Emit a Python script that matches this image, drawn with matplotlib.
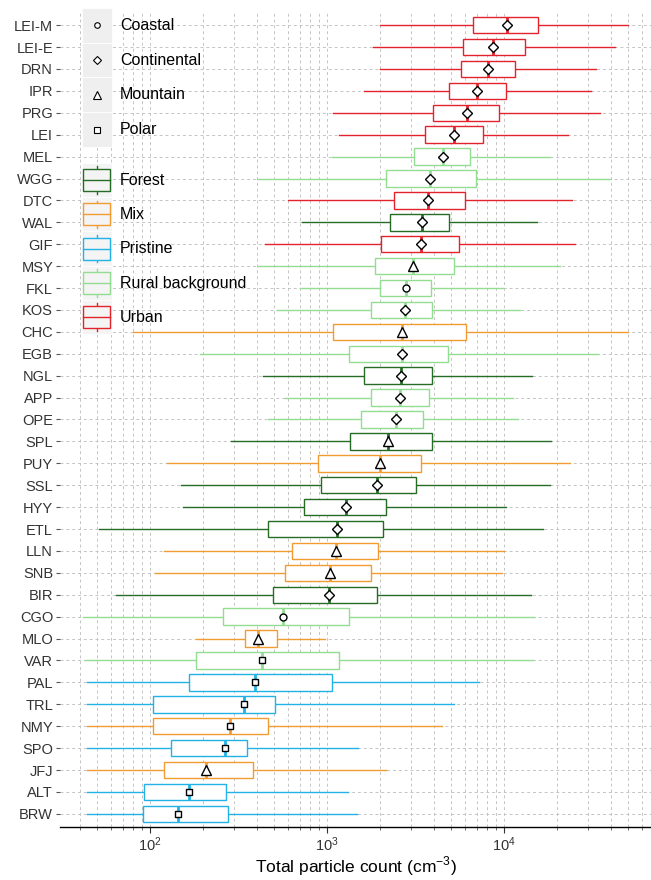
import matplotlib
matplotlib.use('Agg')
import matplotlib.pyplot as plt
from matplotlib.legend_handler import HandlerBase
from matplotlib.patches import Rectangle
from matplotlib.lines import Line2D
from matplotlib.ticker import LogLocator, NullFormatter

plt.rcParams['font.family'] = ['Liberation Sans', 'DejaVu Sans']
plt.rcParams['mathtext.fontset'] = 'custom'
plt.rcParams['mathtext.rm'] = 'Liberation Sans'

# Stations listed top to bottom, as in the figure
stations = ['LEI-M', 'LEI-E', 'DRN', 'IPR', 'PRG', 'LEI', 'MEL', 'WGG', 'DTC',
            'WAL', 'GIF', 'MSY', 'FKL', 'KOS', 'CHC', 'EGB', 'NGL', 'APP', 'OPE',
            'SPL', 'PUY', 'SSL', 'HYY', 'ETL', 'LLN', 'SNB', 'BIR', 'CGO', 'MLO',
            'VAR', 'PAL', 'TRL', 'NMY', 'SPO', 'JFJ', 'ALT', 'BRW']
env = ['Urban', 'Urban', 'Urban', 'Urban', 'Urban', 'Urban', 'Rural background',
       'Rural background', 'Urban', 'Forest', 'Urban', 'Rural background',
       'Rural background', 'Rural background', 'Mix', 'Rural background', 'Forest',
       'Rural background', 'Rural background', 'Forest', 'Mix', 'Forest', 'Forest',
       'Forest', 'Mix', 'Mix', 'Forest', 'Rural background', 'Mix',
       'Rural background', 'Pristine', 'Pristine', 'Mix', 'Pristine', 'Mix',
       'Pristine', 'Pristine']
geo = ['Continental'] * 11 + ['Mountain', 'Coastal', 'Continental', 'Mountain',
       'Continental', 'Continental', 'Continental', 'Continental', 'Mountain',
       'Mountain', 'Continental', 'Continental', 'Continental', 'Mountain',
       'Mountain', 'Continental', 'Coastal', 'Mountain', 'Polar', 'Polar', 'Polar',
       'Polar', 'Polar', 'Mountain', 'Polar', 'Polar']

whislo = [1990, 1820, 1990, 1620, 1080, 1170, 1070, 403, 603, 723, 447, 408, 703,
          522, 80, 191, 435, 579, 464, 287, 125, 150, 154, 51.5, 120, 107, 64,
          42, 182, 43, 44, 44, 44, 44, 44, 44, 44]
q1 = [6680, 5860, 5710, 4890, 3970, 3580, 3100, 2150, 2390, 2270, 2020, 1870, 1990,
      1770, 1080, 1330, 1620, 1770, 1560, 1350, 889, 925, 741, 464, 634, 579, 495,
      258, 344, 182, 166, 104, 104, 131, 120, 92.5, 91]
med = [10400, 8670, 8130, 7040, 6180, 5230, 4520, 3820, 3720, 3440, 3400, 3060,
       2790, 2760, 2660, 2660, 2620, 2580, 2450, 2210, 1990, 1920, 1280, 1140, 1120,
       1040, 1030, 564, 408, 430, 392, 340, 283, 266, 207, 166, 144]
q3 = [15600, 13200, 11500, 10300, 9370, 7610, 6420, 6950, 6020, 4890, 5570, 5230,
      3870, 3920, 6100, 4830, 3920, 3770, 3480, 3920, 3400, 3180, 2150, 2070, 1940,
      1770, 1920, 1330, 522, 1170, 1070, 508, 464, 353, 382, 268, 276]
whishi = [50200, 42400, 33100, 31000, 34800, 23000, 18200, 39700, 24200, 15400,
          25200, 20700, 9860, 12300, 50200, 34000, 14400, 11200, 12000, 18400,
          23600, 18200, 10300, 16600, 10000, 9750, 14200, 14800, 975, 14600, 7230,
          5230, 4470, 1500, 2150, 1310, 1480]
mean = list(med)

env_colors = {'Forest': '#266B26', 'Mix': '#F29B30', 'Pristine': '#22B2E6',
              'Rural background': '#93DD93', 'Urban': '#E2232B'}
geo_markers = {'Coastal': ('o', 5), 'Continental': ('D', 5.5),
               'Mountain': ('^', 6.5), 'Polar': ('s', 5)}

n = len(stations)
pos = [n - i for i in range(n)]

fig = plt.figure(figsize=(6.51, 8.8), dpi=100)
ax = fig.add_axes([60 / 651, 53 / 880, 591 / 651, 815 / 880])
ax.set_xscale('log')
ax.set_xlim(31, 67700)
ax.set_ylim(0.4, n + 0.6)

stats = []
for i in range(n):
    stats.append({'whislo': whislo[i], 'q1': q1[i], 'med': med[i],
                  'q3': q3[i], 'whishi': whishi[i], 'fliers': []})

bp = ax.bxp(stats, positions=pos, widths=0.75, orientation='horizontal',
            patch_artist=True, showcaps=False, showfliers=False,
            manage_ticks=False)
for i in range(n):
    c = env_colors[env[i]]
    bp['boxes'][i].set(facecolor='white', edgecolor=c, linewidth=1.0, zorder=3)
    bp['medians'][i].set(color=c, linewidth=2.0, zorder=3)
    for w in bp['whiskers'][2 * i:2 * i + 2]:
        w.set(color=c, linewidth=1.0, zorder=2)

for i in range(n):
    mk, ms = geo_markers[geo[i]]
    ax.plot(mean[i], pos[i], marker=mk, ms=ms, mfc='white', mec='black',
            mew=1.0, ls='none', zorder=5)

# axes styling
ax.set_yticks(pos)
ax.set_yticklabels(stations, fontsize=10.5, color='#333333')
ax.xaxis.set_major_locator(LogLocator(base=10))
ax.xaxis.set_minor_locator(LogLocator(base=10, subs=range(2, 10)))
ax.xaxis.set_minor_formatter(NullFormatter())
ax.tick_params(axis='x', which='major', labelsize=10.5, labelcolor='#333333',
               length=4, color='#333333', pad=2)
ax.tick_params(axis='x', which='minor', length=2, color='#555555')
ax.tick_params(axis='y', length=3, color='#555555', pad=2)
ax.set_axisbelow(True)
ax.grid(True, axis='x', which='both', linestyle=(0, (3, 3)), color='#C4C4C4',
        linewidth=0.7)
ax.grid(True, axis='y', which='major', linestyle=(0, (3, 3)), color='#C4C4C4',
        linewidth=0.7)
for s in ['top', 'right', 'left']:
    ax.spines[s].set_visible(False)
ax.spines['bottom'].set_linewidth(1.0)
ax.set_xlabel('Total particle count (cm$^{-3}$)', fontsize=12.5)
ax.xaxis.set_label_coords(0.5, -0.034)


class MarkerKey(HandlerBase):
    def __init__(self, marker, ms):
        super().__init__()
        self.marker = marker
        self.ms = ms

    def create_artists(self, legend, orig_handle, xdescent, ydescent, width,
                       height, fontsize, trans):
        bg = Rectangle((-xdescent, -ydescent), width, height, facecolor='#EFEFEF',
                       edgecolor='white', linewidth=0.6, transform=trans)
        m = Line2D([width / 2 - xdescent], [height / 2 - ydescent],
                   marker=self.marker, ms=self.ms * 0.8, mfc='white', mec='black',
                   mew=0.8, ls='none', transform=trans)
        return [bg, m]


class BoxKey(HandlerBase):
    def __init__(self, color):
        super().__init__()
        self.color = color

    def create_artists(self, legend, orig_handle, xdescent, ydescent, width,
                       height, fontsize, trans):
        x0, y0 = -xdescent, -ydescent
        bg = Rectangle((x0, y0), width, height, facecolor='#F4F4F4',
                       edgecolor='white', linewidth=0.6, transform=trans)
        xm = x0 + width / 2
        wl = Line2D([xm, xm], [y0 + 0.1 * height, y0 + 0.9 * height],
                    color=self.color, lw=1.0, transform=trans)
        box = Rectangle((x0 + 0.05 * width, y0 + 0.18 * height), 0.9 * width,
                        0.64 * height, facecolor='#F4F4F4', edgecolor=self.color,
                        linewidth=1.0, transform=trans)
        md = Line2D([x0 + 0.05 * width, x0 + 0.95 * width],
                    [y0 + 0.5 * height] * 2, color=self.color, lw=1.0,
                    transform=trans)
        return [bg, wl, box, md]


# key sizes are given in font-size units, so scale them to the legend font
lf = 11.5
geo_names = ['Coastal', 'Continental', 'Mountain', 'Polar']
geo_handles = [Line2D([], []) for g in geo_names]
leg1 = ax.legend(geo_handles, geo_names,
                 handler_map={h: MarkerKey(*geo_markers[g])
                              for h, g in zip(geo_handles, geo_names)},
                 loc='upper left', bbox_to_anchor=(82 / 651, 1 - 8 / 880),
                 bbox_transform=fig.transFigure, frameon=False, borderpad=0,
                 labelspacing=0, handlelength=21.5 / lf,
                 handleheight=3.25 * 10.5 / lf,
                 handletextpad=0.5, fontsize=lf, borderaxespad=0)
ax.add_artist(leg1)

env_names = ['Forest', 'Mix', 'Pristine', 'Rural background', 'Urban']
env_handles = [Line2D([], []) for e in env_names]
leg2 = ax.legend(env_handles, env_names,
                 handler_map={h: BoxKey(env_colors[e])
                              for h, e in zip(env_handles, env_names)},
                 loc='upper left', bbox_to_anchor=(82 / 651, 1 - 163 / 880),
                 bbox_transform=fig.transFigure, frameon=False, borderpad=0,
                 labelspacing=0, handlelength=21.5 / lf,
                 handleheight=3.2 * 10.5 / lf,
                 handletextpad=0.5, fontsize=lf, borderaxespad=0)

fig.savefig('out.png', dpi=100)
